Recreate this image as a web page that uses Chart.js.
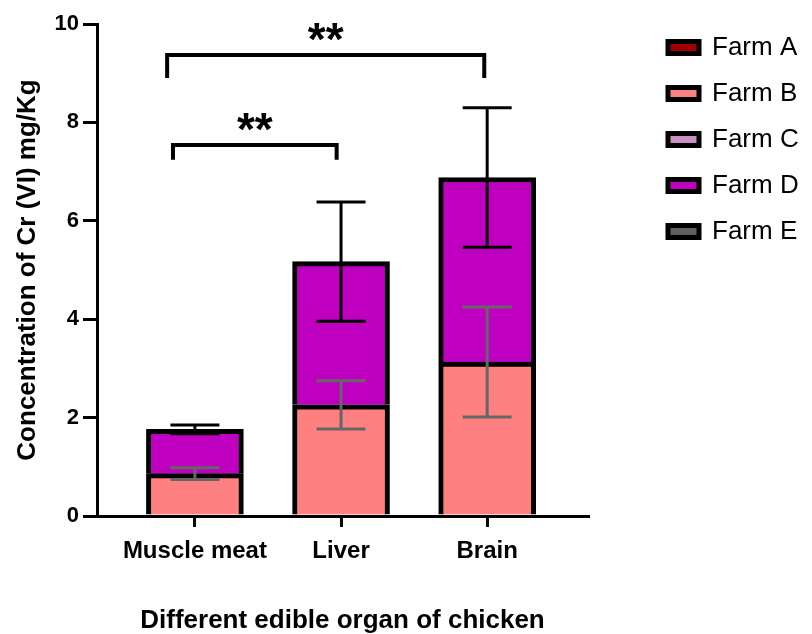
<!DOCTYPE html>
<html>
<head>
<meta charset="utf-8">
<script src="https://cdn.jsdelivr.net/npm/chart.js@4.4.0/dist/chart.umd.min.js"></script>
<style>
  html, body { margin: 0; padding: 0; background: #fff; overflow: hidden; }
  #grafico { display: block; }
</style>
</head>
<body>
<canvas id="grafico" width="812" height="634"></canvas>
<script>
// Categorias e valores
const organs = ['Muscle meat', 'Liver', 'Brain'];
const farmNames = ['Farm A', 'Farm B', 'Farm C', 'Farm D', 'Farm E'];
const farmColors = ['#a00000', '#ff8080', '#c890c0', '#c000c0', '#606060'];
const farmA = [null, null, null];
const farmB = [0.86, 2.26, 3.13];
const farmC = [null, null, null];
const farmD = [0.90, 2.91, 3.75];
const farmE = [null, null, null];
const errB = [0.12, 0.49, 1.12];
const errD = [0.09, 1.21, 1.42];
const yTicks = [0, 2, 4, 6, 8, 10];

// Colchetes de significância (x em índice da categoria, y em mg/Kg)
const bracketFrom = [-0.19, -0.15];
const bracketTo = [1.98, 0.97];
const bracketTop = [9.37, 7.54];
const bracketFoot = [8.90, 7.24];
const bracketText = ['**', '**'];

const fonte = '"Liberation Sans", Arial, sans-serif';

// Desenha barras de erro e colchetes por cima das barras
const extrasPlugin = {
    id: 'extras',
    afterLayout(chart) {
        // legenda um pouco mais para a esquerda e sem cortar o texto
        if (chart.legend) {
            chart.legend.left = 648;
            chart.legend.right = chart.width;
            chart.legend.width = chart.width - 648;
        }
    },
    afterDatasetsDraw(chart) {
        const { ctx, scales: { x, y } } = chart;
        ctx.save();
        ctx.lineCap = 'butt';

        const barraErro = (i, centro, err, cor) => {
            const px = x.getPixelForValue(i);
            const yTop = y.getPixelForValue(centro + err);
            const yBot = y.getPixelForValue(centro - err);
            ctx.strokeStyle = cor;
            ctx.lineWidth = 3;
            ctx.beginPath();
            ctx.moveTo(px, yTop); ctx.lineTo(px, yBot);
            ctx.moveTo(px - 24.5, yTop); ctx.lineTo(px + 24.5, yTop);
            ctx.moveTo(px - 24.5, yBot); ctx.lineTo(px + 24.5, yBot);
            ctx.stroke();
        };
        organs.forEach((_, i) => barraErro(i, farmB[i], errB[i], '#666666'));
        organs.forEach((_, i) => barraErro(i, farmB[i] + farmD[i], errD[i], '#000000'));

        // colchetes
        ctx.strokeStyle = '#000';
        ctx.lineWidth = 4;
        ctx.lineJoin = 'miter';
        ctx.fillStyle = '#000';
        ctx.font = 'bold 46px ' + fonte;
        ctx.textAlign = 'center';
        ctx.textBaseline = 'alphabetic';
        bracketText.forEach((txt, k) => {
            const x1 = x.getPixelForValue(bracketFrom[k]);
            const x2 = x.getPixelForValue(bracketTo[k]);
            const yt = y.getPixelForValue(bracketTop[k]);
            const yf = y.getPixelForValue(bracketFoot[k]);
            ctx.beginPath();
            ctx.moveTo(x1, yf); ctx.lineTo(x1, yt); ctx.lineTo(x2, yt); ctx.lineTo(x2, yf);
            ctx.stroke();
            ctx.fillText(txt, (x1 + x2) / 2, yt);
        });
        ctx.restore();
    }
};

const series = [farmA, farmB, farmC, farmD, farmE];

const ctx = document.getElementById('grafico').getContext('2d');
new Chart(ctx, {
    type: 'bar',
    data: {
        datasets: series.map((vals, k) => ({
            label: farmNames[k],
            data: vals.map((v, i) => ({ x: i, y: v })),
            backgroundColor: farmColors[k],
            borderColor: '#000',
            borderWidth: 5,
            borderSkipped: 'start',
            barThickness: 97,
            xAxisID: 'x',
            yAxisID: 'y'
        }))
    },
    options: {
        responsive: false,
        animation: false,
        devicePixelRatio: 1,
        layout: { padding: 0 },
        plugins: {
            tooltip: { enabled: false },
            legend: {
                position: 'right',
                align: 'start',
                title: { display: true, text: '', font: { size: 10 }, padding: { top: 1, bottom: 1.5 } },
                labels: {
                    boxWidth: 31,
                    boxHeight: 12,
                    padding: 20,
                    color: '#000',
                    font: { family: fonte, size: 26 }
                }
            }
        },
        scales: {
            x: {
                type: 'linear',
                position: 'bottom',
                stacked: true,
                offset: false,
                min: -0.67,
                max: 2.69,
                afterBuildTicks: s => { s.ticks = organs.map((_, i) => ({ value: i })); },
                afterFit: s => { s.height = 118; },
                grid: { display: true, offset: false, drawOnChartArea: false, tickLength: 11, lineWidth: 3, color: '#000' },
                border: { display: true, width: 3, color: '#000' },
                ticks: {
                    autoSkip: false, maxRotation: 0, padding: 10, color: '#000',
                    font: { family: fonte, size: 24, weight: 'bold' },
                    callback: v => organs[v]
                },
                title: {
                    display: true, text: 'Different edible organ of chicken', color: '#000',
                    font: { family: fonte, size: 26, weight: 'bold' },
                    padding: { top: 0, bottom: -2 }
                }
            },
            xTop: {
                type: 'linear',
                position: 'top',
                afterFit: s => { s.height = 24; },
                grid: { display: false }, border: { display: false }, ticks: { display: false }
            },
            y: {
                type: 'linear',
                position: 'left',
                stacked: true,
                min: 0,
                max: 10,
                afterBuildTicks: s => { s.ticks = yTicks.map(v => ({ value: v })); },
                afterFit: s => { s.width = 97; },
                grid: { display: true, drawOnChartArea: false, tickLength: 14, lineWidth: 3, color: '#000' },
                border: { display: true, width: 3, color: '#000' },
                ticks: {
                    padding: 4, color: '#000',
                    font: { family: fonte, size: 22, weight: 'bold' }
                },
                title: {
                    display: true, text: 'Concentration of Cr (VI) mg/Kg', color: '#000',
                    font: { family: fonte, size: 26, weight: 'bold' },
                    padding: { top: 12, bottom: 0 }
                }
            },
            yRight: {
                type: 'linear',
                position: 'right',
                afterFit: s => { s.width = Math.max(0, s.chart.width - s.chart.legend.width - 588); },
                grid: { display: false }, border: { display: false }, ticks: { display: false }
            }
        }
    },
    plugins: [extrasPlugin]
});
</script>
</body>
</html>
